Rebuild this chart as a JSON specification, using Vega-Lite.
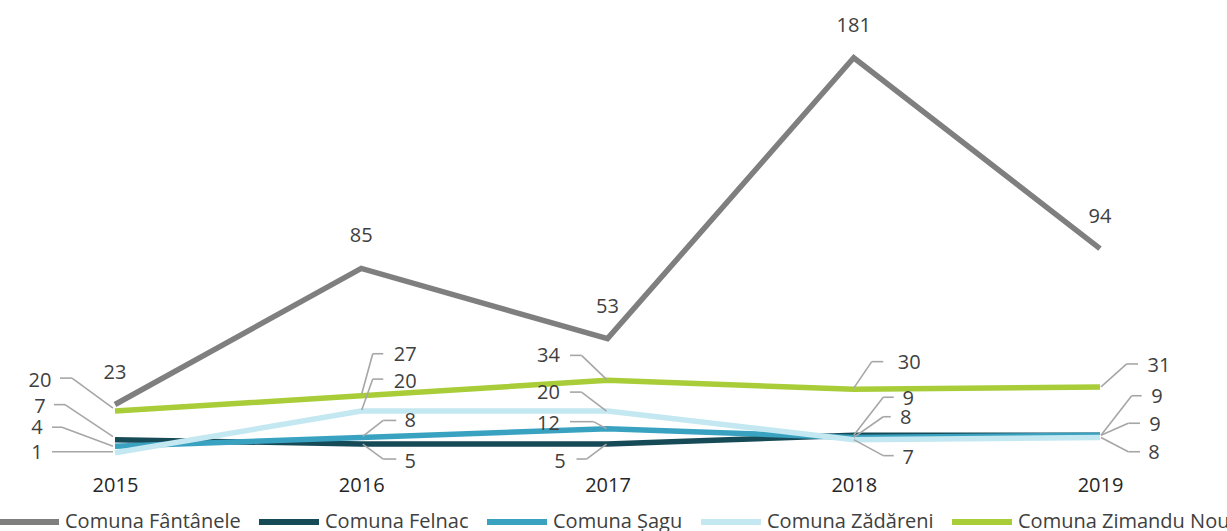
{
  "$schema": "https://vega.github.io/schema/vega-lite/v6.json",
  "width": 1215,
  "height": 439,
  "autosize": "none",
  "padding": {"left": 0, "top": 16, "right": 12, "bottom": 76},
  "background": "white",
  "config": {
    "view": {"stroke": null},
    "font": "Open Sans",
    "text": {"font": "Open Sans", "fontSize": 20, "color": "#404040"},
    "rule": {"color": "#a6a6a6", "strokeWidth": 1.6}
  },
  "data": {
    "values": [
      {"year": "2015", "series": "Comuna Fântânele", "value": 23},
      {"year": "2016", "series": "Comuna Fântânele", "value": 85},
      {"year": "2017", "series": "Comuna Fântânele", "value": 53},
      {"year": "2018", "series": "Comuna Fântânele", "value": 181},
      {"year": "2019", "series": "Comuna Fântânele", "value": 94},
      {"year": "2015", "series": "Comuna Felnac", "value": 7},
      {"year": "2016", "series": "Comuna Felnac", "value": 5},
      {"year": "2017", "series": "Comuna Felnac", "value": 5},
      {"year": "2018", "series": "Comuna Felnac", "value": 9},
      {"year": "2019", "series": "Comuna Felnac", "value": 9},
      {"year": "2015", "series": "Comuna Șagu", "value": 4},
      {"year": "2016", "series": "Comuna Șagu", "value": 8},
      {"year": "2017", "series": "Comuna Șagu", "value": 12},
      {"year": "2018", "series": "Comuna Șagu", "value": 8},
      {"year": "2019", "series": "Comuna Șagu", "value": 9},
      {"year": "2015", "series": "Comuna Zădăreni", "value": 1},
      {"year": "2016", "series": "Comuna Zădăreni", "value": 20},
      {"year": "2017", "series": "Comuna Zădăreni", "value": 20},
      {"year": "2018", "series": "Comuna Zădăreni", "value": 7},
      {"year": "2019", "series": "Comuna Zădăreni", "value": 8},
      {"year": "2015", "series": "Comuna Zimandu Nou", "value": 20},
      {"year": "2016", "series": "Comuna Zimandu Nou", "value": 27},
      {"year": "2017", "series": "Comuna Zimandu Nou", "value": 34},
      {"year": "2018", "series": "Comuna Zimandu Nou", "value": 30},
      {"year": "2019", "series": "Comuna Zimandu Nou", "value": 31}
    ]
  },
  "encoding": {
    "x": {
      "field": "year", "type": "ordinal",
      "scale": {"type": "point", "padding": 0.467},
      "axis": {"title": null, "domain": false, "ticks": false, "grid": false, "labelAngle": 0, "labelFontSize": 20, "labelColor": "#262626", "labelPadding": 20, "labelFont": "Open Sans"}
    },
    "y": {"field": "value", "type": "quantitative", "scale": {"domain": [0, 200], "nice": false}, "axis": null}
  },
  "layer": [
    {
      "mark": {"type": "line", "strokeWidth": 5.5},
      "encoding": {
        "color": {
          "field": "series", "type": "nominal",
          "scale": {
            "domain": ["Comuna Fântânele", "Comuna Felnac", "Comuna Șagu", "Comuna Zădăreni", "Comuna Zimandu Nou"],
            "range": ["#7f7f7f", "#174a57", "#3aa2c1", "#c3e8f1", "#a9cd38"]
          },
          "legend": {"orient": "none", "direction": "horizontal", "legendX": -4, "legendY": 473, "title": null, "symbolType": "stroke", "symbolSize": 3600, "symbolStrokeWidth": 6, "labelFontSize": 20, "labelFont": "Open Sans", "labelColor": "#404040", "labelOffset": 3, "columnPadding": 6, "padding": 0, "labelLimit": 400}
        }
      }
    },
    {
      "transform": [{"filter": "datum.series == 'Comuna Fântânele'"}],
      "mark": {"type": "text", "dy": -32},
      "encoding": {"text": {"field": "value", "type": "quantitative"}}
    },
    {"transform": [{"filter": "datum.series == 'Comuna Zimandu Nou' && datum.year == '2015'"}], "layer": [
      {"mark": {"type": "text", "dx": -75, "dy": -30}, "encoding": {"text": {"field": "value", "type": "quantitative"}}},
      {"mark": {"type": "rule", "xOffset": -55, "yOffset": -33, "x2Offset": -43, "y2Offset": -33}, "encoding": {"x2": {"field": "year"}, "y2": {"field": "value"}}},
      {"mark": {"type": "rule", "xOffset": -43, "yOffset": -33, "x2Offset": -2, "y2Offset": -3}, "encoding": {"x2": {"field": "year"}, "y2": {"field": "value"}}}
    ]},
    {"transform": [{"filter": "datum.series == 'Comuna Felnac' && datum.year == '2015'"}], "layer": [
      {"mark": {"type": "text", "dx": -75, "dy": -33}, "encoding": {"text": {"field": "value", "type": "quantitative"}}},
      {"mark": {"type": "rule", "xOffset": -61, "yOffset": -35, "x2Offset": -50, "y2Offset": -35}, "encoding": {"x2": {"field": "year"}, "y2": {"field": "value"}}},
      {"mark": {"type": "rule", "xOffset": -50, "yOffset": -35, "x2Offset": -2, "y2Offset": -3}, "encoding": {"x2": {"field": "year"}, "y2": {"field": "value"}}}
    ]},
    {"transform": [{"filter": "datum.series == 'Comuna Șagu' && datum.year == '2015'"}], "layer": [
      {"mark": {"type": "text", "dx": -78, "dy": -18}, "encoding": {"text": {"field": "value", "type": "quantitative"}}},
      {"mark": {"type": "rule", "xOffset": -63, "yOffset": -19, "x2Offset": -53, "y2Offset": -19}, "encoding": {"x2": {"field": "year"}, "y2": {"field": "value"}}},
      {"mark": {"type": "rule", "xOffset": -53, "yOffset": -19, "x2Offset": -2, "y2Offset": 0}, "encoding": {"x2": {"field": "year"}, "y2": {"field": "value"}}}
    ]},
    {"transform": [{"filter": "datum.series == 'Comuna Zădăreni' && datum.year == '2015'"}], "layer": [
      {"mark": {"type": "text", "dx": -78, "dy": 0}, "encoding": {"text": {"field": "value", "type": "quantitative"}}},
      {"mark": {"type": "rule", "xOffset": -63, "yOffset": -1, "x2Offset": -2, "y2Offset": -1}, "encoding": {"x2": {"field": "year"}, "y2": {"field": "value"}}}
    ]},
    {"transform": [{"filter": "datum.series == 'Comuna Zimandu Nou' && datum.year == '2016'"}], "layer": [
      {"mark": {"type": "text", "dx": 44, "dy": -41}, "encoding": {"text": {"field": "value", "type": "quantitative"}}},
      {"mark": {"type": "rule", "xOffset": 11.5, "yOffset": -42, "x2Offset": 22, "y2Offset": -42}, "encoding": {"x2": {"field": "year"}, "y2": {"field": "value"}}},
      {"mark": {"type": "rule", "xOffset": 11.5, "yOffset": -42, "x2Offset": 0.5, "y2Offset": -2}, "encoding": {"x2": {"field": "year"}, "y2": {"field": "value"}}}
    ]},
    {"transform": [{"filter": "datum.series == 'Comuna Zădăreni' && datum.year == '2016'"}], "layer": [
      {"mark": {"type": "text", "dx": 44, "dy": -29}, "encoding": {"text": {"field": "value", "type": "quantitative"}}},
      {"mark": {"type": "rule", "xOffset": 11.5, "yOffset": -32, "x2Offset": 22, "y2Offset": -32}, "encoding": {"x2": {"field": "year"}, "y2": {"field": "value"}}},
      {"mark": {"type": "rule", "xOffset": 11.5, "yOffset": -32, "x2Offset": 0.5, "y2Offset": -1}, "encoding": {"x2": {"field": "year"}, "y2": {"field": "value"}}}
    ]},
    {"transform": [{"filter": "datum.series == 'Comuna Șagu' && datum.year == '2016'"}], "layer": [
      {"mark": {"type": "text", "dx": 49, "dy": -16}, "encoding": {"text": {"field": "value", "type": "quantitative"}}},
      {"mark": {"type": "rule", "xOffset": 22, "yOffset": -17, "x2Offset": 35, "y2Offset": -17}, "encoding": {"x2": {"field": "year"}, "y2": {"field": "value"}}},
      {"mark": {"type": "rule", "xOffset": 22, "yOffset": -17, "x2Offset": 1.5, "y2Offset": -1}, "encoding": {"x2": {"field": "year"}, "y2": {"field": "value"}}}
    ]},
    {"transform": [{"filter": "datum.series == 'Comuna Felnac' && datum.year == '2016'"}], "layer": [
      {"mark": {"type": "text", "dx": 49, "dy": 18}, "encoding": {"text": {"field": "value", "type": "quantitative"}}},
      {"mark": {"type": "rule", "xOffset": 22, "yOffset": 15, "x2Offset": 35, "y2Offset": 15}, "encoding": {"x2": {"field": "year"}, "y2": {"field": "value"}}},
      {"mark": {"type": "rule", "xOffset": 22, "yOffset": 15, "x2Offset": 1.5, "y2Offset": 0}, "encoding": {"x2": {"field": "year"}, "y2": {"field": "value"}}}
    ]},
    {"transform": [{"filter": "datum.series == 'Comuna Zimandu Nou' && datum.year == '2017'"}], "layer": [
      {"mark": {"type": "text", "dx": -59, "dy": -24}, "encoding": {"text": {"field": "value", "type": "quantitative"}}},
      {"mark": {"type": "rule", "xOffset": -37.5, "yOffset": -25, "x2Offset": -26, "y2Offset": -25}, "encoding": {"x2": {"field": "year"}, "y2": {"field": "value"}}},
      {"mark": {"type": "rule", "xOffset": -26, "yOffset": -25, "x2Offset": -1, "y2Offset": -1}, "encoding": {"x2": {"field": "year"}, "y2": {"field": "value"}}}
    ]},
    {"transform": [{"filter": "datum.series == 'Comuna Zădăreni' && datum.year == '2017'"}], "layer": [
      {"mark": {"type": "text", "dx": -59, "dy": -18}, "encoding": {"text": {"field": "value", "type": "quantitative"}}},
      {"mark": {"type": "rule", "xOffset": -37.5, "yOffset": -19, "x2Offset": -26, "y2Offset": -19}, "encoding": {"x2": {"field": "year"}, "y2": {"field": "value"}}},
      {"mark": {"type": "rule", "xOffset": -26, "yOffset": -19, "x2Offset": -1, "y2Offset": 0}, "encoding": {"x2": {"field": "year"}, "y2": {"field": "value"}}}
    ]},
    {"transform": [{"filter": "datum.series == 'Comuna Șagu' && datum.year == '2017'"}], "layer": [
      {"mark": {"type": "text", "dx": -59, "dy": -5}, "encoding": {"text": {"field": "value", "type": "quantitative"}}},
      {"mark": {"type": "rule", "xOffset": -37.5, "yOffset": -7, "x2Offset": -14, "y2Offset": -7}, "encoding": {"x2": {"field": "year"}, "y2": {"field": "value"}}},
      {"mark": {"type": "rule", "xOffset": -14, "yOffset": -7, "x2Offset": -1, "y2Offset": 0}, "encoding": {"x2": {"field": "year"}, "y2": {"field": "value"}}}
    ]},
    {"transform": [{"filter": "datum.series == 'Comuna Felnac' && datum.year == '2017'"}], "layer": [
      {"mark": {"type": "text", "dx": -47.5, "dy": 18}, "encoding": {"text": {"field": "value", "type": "quantitative"}}},
      {"mark": {"type": "rule", "xOffset": -31, "yOffset": 15, "x2Offset": -21, "y2Offset": 15}, "encoding": {"x2": {"field": "year"}, "y2": {"field": "value"}}},
      {"mark": {"type": "rule", "xOffset": -21, "yOffset": 15, "x2Offset": -1, "y2Offset": 0}, "encoding": {"x2": {"field": "year"}, "y2": {"field": "value"}}}
    ]},
    {"transform": [{"filter": "datum.series == 'Comuna Zimandu Nou' && datum.year == '2018'"}], "layer": [
      {"mark": {"type": "text", "dx": 55.5, "dy": -26}, "encoding": {"text": {"field": "value", "type": "quantitative"}}},
      {"mark": {"type": "rule", "xOffset": 18, "yOffset": -27.5, "x2Offset": 29.5, "y2Offset": -27.5}, "encoding": {"x2": {"field": "year"}, "y2": {"field": "value"}}},
      {"mark": {"type": "rule", "xOffset": 18, "yOffset": -27.5, "x2Offset": 0, "y2Offset": -1}, "encoding": {"x2": {"field": "year"}, "y2": {"field": "value"}}}
    ]},
    {"transform": [{"filter": "datum.series == 'Comuna Felnac' && datum.year == '2018'"}], "layer": [
      {"mark": {"type": "text", "dx": 54.5, "dy": -36}, "encoding": {"text": {"field": "value", "type": "quantitative"}}},
      {"mark": {"type": "rule", "xOffset": 29.5, "yOffset": -38, "x2Offset": 40, "y2Offset": -38}, "encoding": {"x2": {"field": "year"}, "y2": {"field": "value"}}},
      {"mark": {"type": "rule", "xOffset": 29.5, "yOffset": -38, "x2Offset": 0, "y2Offset": 0}, "encoding": {"x2": {"field": "year"}, "y2": {"field": "value"}}}
    ]},
    {"transform": [{"filter": "datum.series == 'Comuna Șagu' && datum.year == '2018'"}], "layer": [
      {"mark": {"type": "text", "dx": 52, "dy": -19}, "encoding": {"text": {"field": "value", "type": "quantitative"}}},
      {"mark": {"type": "rule", "xOffset": 29.5, "yOffset": -20.7, "x2Offset": 37, "y2Offset": -20.7}, "encoding": {"x2": {"field": "year"}, "y2": {"field": "value"}}},
      {"mark": {"type": "rule", "xOffset": 29.5, "yOffset": -20.7, "x2Offset": 0, "y2Offset": 0}, "encoding": {"x2": {"field": "year"}, "y2": {"field": "value"}}}
    ]},
    {"transform": [{"filter": "datum.series == 'Comuna Zădăreni' && datum.year == '2018'"}], "layer": [
      {"mark": {"type": "text", "dx": 54.5, "dy": 18}, "encoding": {"text": {"field": "value", "type": "quantitative"}}},
      {"mark": {"type": "rule", "xOffset": 29.5, "yOffset": 16, "x2Offset": 40, "y2Offset": 16}, "encoding": {"x2": {"field": "year"}, "y2": {"field": "value"}}},
      {"mark": {"type": "rule", "xOffset": 29.5, "yOffset": 16, "x2Offset": 0, "y2Offset": 0}, "encoding": {"x2": {"field": "year"}, "y2": {"field": "value"}}}
    ]},
    {"transform": [{"filter": "datum.series == 'Comuna Zimandu Nou' && datum.year == '2019'"}], "layer": [
      {"mark": {"type": "text", "dx": 59, "dy": -21}, "encoding": {"text": {"field": "value", "type": "quantitative"}}},
      {"mark": {"type": "rule", "xOffset": 26.7, "yOffset": -23, "x2Offset": 38, "y2Offset": -23}, "encoding": {"x2": {"field": "year"}, "y2": {"field": "value"}}},
      {"mark": {"type": "rule", "xOffset": 26.7, "yOffset": -23, "x2Offset": 1, "y2Offset": 0}, "encoding": {"x2": {"field": "year"}, "y2": {"field": "value"}}}
    ]},
    {"transform": [{"filter": "datum.series == 'Comuna Felnac' && datum.year == '2019'"}], "layer": [
      {"mark": {"type": "text", "dx": 57, "dy": -38}, "encoding": {"text": {"field": "value", "type": "quantitative"}}},
      {"mark": {"type": "rule", "xOffset": 31.7, "yOffset": -39.5, "x2Offset": 41.7, "y2Offset": -39.5}, "encoding": {"x2": {"field": "year"}, "y2": {"field": "value"}}},
      {"mark": {"type": "rule", "xOffset": 31.7, "yOffset": -39.5, "x2Offset": 1, "y2Offset": 0}, "encoding": {"x2": {"field": "year"}, "y2": {"field": "value"}}}
    ]},
    {"transform": [{"filter": "datum.series == 'Comuna Șagu' && datum.year == '2019'"}], "layer": [
      {"mark": {"type": "text", "dx": 55, "dy": -10}, "encoding": {"text": {"field": "value", "type": "quantitative"}}},
      {"mark": {"type": "rule", "xOffset": 28.3, "yOffset": -12, "x2Offset": 40, "y2Offset": -12}, "encoding": {"x2": {"field": "year"}, "y2": {"field": "value"}}},
      {"mark": {"type": "rule", "xOffset": 28.3, "yOffset": -12, "x2Offset": 1, "y2Offset": 0}, "encoding": {"x2": {"field": "year"}, "y2": {"field": "value"}}}
    ]},
    {"transform": [{"filter": "datum.series == 'Comuna Zădăreni' && datum.year == '2019'"}], "layer": [
      {"mark": {"type": "text", "dx": 54, "dy": 16}, "encoding": {"text": {"field": "value", "type": "quantitative"}}},
      {"mark": {"type": "rule", "xOffset": 28.3, "yOffset": 14.3, "x2Offset": 40, "y2Offset": 14.3}, "encoding": {"x2": {"field": "year"}, "y2": {"field": "value"}}},
      {"mark": {"type": "rule", "xOffset": 28.3, "yOffset": 14.3, "x2Offset": 1, "y2Offset": 0}, "encoding": {"x2": {"field": "year"}, "y2": {"field": "value"}}}
    ]}
  ]
}
